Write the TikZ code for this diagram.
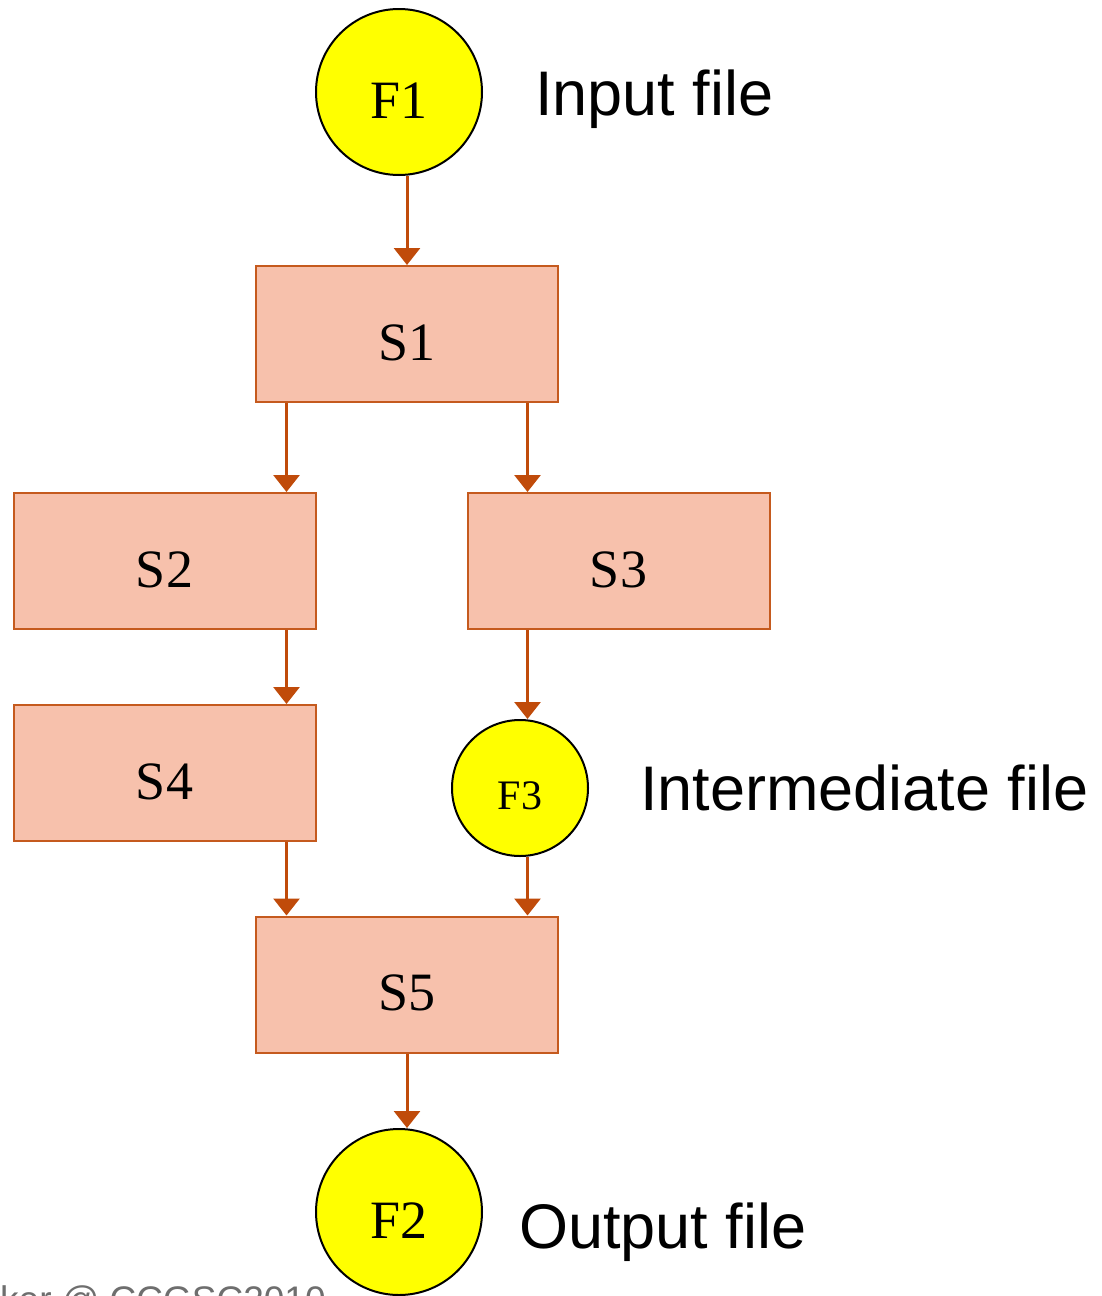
\documentclass[tikz,border=0pt]{standalone}
\usepackage{fontspec}
\setmainfont{Liberation Serif}
\newfontfamily\arialfam{Liberation Sans}
\usetikzlibrary{arrows.meta}
\definecolor{arrowc}{HTML}{C04B0A}
\definecolor{boxfill}{HTML}{F7C1AC}
\definecolor{boxdraw}{HTML}{C55A1E}
\definecolor{fileyel}{HTML}{FFFF00}
\definecolor{wmgray}{HTML}{6E6E6E}
\begin{document}
\begin{tikzpicture}[x=1pt,y=-1pt,
  stepbox/.style={draw=boxdraw, fill=boxfill, line width=2pt, minimum width=302pt, minimum height=136pt, inner sep=0pt, font=\fontsize{54}{60}\selectfont, text height=52pt, text depth=0pt},
  filenode/.style={circle, draw=black, line width=2pt, fill=fileyel, inner sep=0pt, minimum size=166pt, font=\fontsize{54}{60}\selectfont, text height=52pt, text depth=0pt},
  smallfile/.style={filenode, minimum size=136pt, font=\fontsize{42}{48}\selectfont, text height=42pt},
  arr/.style={draw=arrowc, line width=3pt, -{Triangle[width=26pt,length=17pt]}},
  lbl/.style={anchor=base west, inner sep=0pt, font=\arialfam\fontsize{63}{70}\selectfont}
]
\useasboundingbox (0,0) rectangle (1101,1296);
\fill[white] (0,0) rectangle (1101,1296);

\node[filenode] (F1) at (399,92) {F1};
\node[stepbox] (S1) at (407,334) {S1};
\node[stepbox] (S2) at (164.5,561) {S2};
\node[stepbox] (S3) at (618.5,561) {S3};
\node[stepbox] (S4) at (164.5,773) {S4};
\node[smallfile] (F3) at (520,788) {F3};
\node[stepbox] (S5) at (407,984.5) {S5};
\node[filenode] (F2) at (399,1212) {F2};

\node[lbl] (t1) at (535,115) {Input file};
\node[lbl] (t3) at (640,810) {Intermediate file};
\node[lbl] (t2) at (519,1248) {Output file};

\node[anchor=base west, inner sep=0pt, text=wmgray, font=\arialfam\fontsize{37}{40}\selectfont] (wm) at (0,1312) {ker @ CCGSC2010};

\coordinate (cL) at ([xshift=-30pt]S2.north east);
\coordinate (cR) at ([xshift=61pt]S3.north west);

\draw[arr] (F1.south -| S1.north) -- (S1.north);
\draw[arr] (cL |- S1.south) -- (cL |- S2.north);
\draw[arr] (cR |- S1.south) -- (cR |- S3.north);
\draw[arr] (cL |- S2.south) -- (cL |- S4.north);
\draw[arr] (cR |- S3.south) -- (cR |- F3.north);
\draw[arr] (cL |- S4.south) -- (cL |- S5.north);
\draw[arr] (cR |- F3.south) -- (cR |- S5.north);
\draw[arr] (S5.south) -- (S5.south |- F2.north);
\end{tikzpicture}
\end{document}
